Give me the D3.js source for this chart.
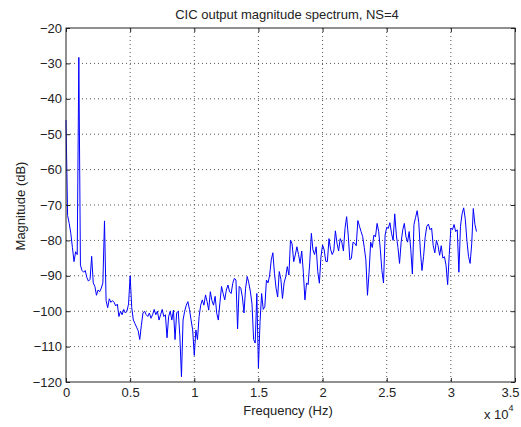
<!DOCTYPE html>
<html>
<head>
<meta charset="utf-8">
<script src="https://cdn.jsdelivr.net/npm/d3@7"></script>
<style>
body { margin: 0; background: #fff; }
</style>
</head>
<body>
<div id="chart"></div>
<script>
// spectrum bins are spaced evenly, 125 Hz apart, starting at 0 Hz
const freqStep = 125;
const magnitude = [
  -46, -73, -75.2, -78, -82, -86, -83.2, -84,
  -28.3, -87, -88.5, -89, -88.5, -90.5, -91.5, -91,
  -84.5, -92, -93, -95.5, -94, -94.5, -93.5, -92,
  -74.5, -97, -99, -96.5, -97.5, -97, -97.5, -98.5,
  -98, -101.5, -100, -101, -99.5, -100.5, -100, -98,
  -90, -99, -102.5, -103.5, -104.5, -105.5, -108, -104,
  -100.5, -100, -101, -101.5, -100.5, -102, -101, -99.5,
  -101, -100, -102.5, -101, -99.5, -101.5, -101, -107.5,
  -101.5, -100, -102.5, -99.7, -108, -100.5, -100, -107,
  -118.5, -102.5, -100, -98.3, -97.3, -99.5, -102.5, -105.3,
  -112.5, -105.3, -108, -101.5, -98.3, -96.8, -98.3, -95.4,
  -97.3, -99.7, -94.5, -97, -98.3, -95.8, -100.6, -102.5,
  -97.5, -93, -95, -96.8, -94, -92.6, -94.5, -95,
  -92.1, -90.7, -91.2, -105, -93, -93.5, -96, -100.5,
  -93.5, -90.2, -92, -94.5, -98, -108, -109, -95,
  -116, -103, -95, -99.5, -98.7, -91.2, -92, -89.8,
  -85.5, -83.5, -89.3, -93.5, -96, -88.8, -91, -96.4,
  -92, -90.3, -87.4, -89.8, -79.9, -81, -86, -84.1,
  -81.8, -84, -86.5, -83, -89, -96.8, -92, -92.5,
  -86.3, -78, -82.7, -84, -81.8, -88.8, -92.1, -84.6,
  -81.3, -82.7, -85.9, -86, -79.5, -82.5, -84, -83,
  -77.3, -80.8, -83, -79.5, -80.5, -83, -76.6, -73.3,
  -78.5, -85.5, -85, -80.5, -80.8, -81.5, -74.4, -76,
  -77.5, -78.9, -82, -85.5, -95.5, -89, -80.5, -82,
  -78.5, -79, -75.2, -77.5, -82.5, -88.5, -92, -78.5,
  -76.3, -76.6, -75, -78, -80, -72.5, -78.5, -82,
  -86.5, -80.5, -77, -75.2, -79, -80.5, -77.5, -82.5,
  -89.5, -75.5, -73.5, -71.6, -75, -83, -88.5, -84.5,
  -79, -76, -75.4, -77, -76.5, -81.5, -83.5, -80,
  -81.5, -84.2, -81.5, -85, -84.6, -87, -92.5, -84,
  -76.5, -77, -75.5, -77.5, -77, -89, -76, -72.5,
  -70.8, -74, -80, -84.5, -86.5, -81, -71, -75.5,
  -77.5
];
const xTicks = [0, 5000, 10000, 15000, 20000, 25000, 30000, 35000];
const xTickLabels = ["0", "0.5", "1", "1.5", "2", "2.5", "3", "3.5"];
const yTicks = [-120, -110, -100, -90, -80, -70, -60, -50, -40, -30, -20];

const width = 521, height = 427;
const plotLeft = 66, plotRight = 515, plotTop = 28, plotBottom = 382;
const font = "'Liberation Sans', Arial, Helvetica, sans-serif";

const svg = d3.select("#chart")
    .append("svg")
    .attr("width", width)
    .attr("height", height);

const x = d3.scaleLinear().domain([0, 35000]).range([plotLeft, plotRight]);
const y = d3.scaleLinear().domain([-120, -20]).range([plotBottom, plotTop]);

// dotted grid
svg.selectAll(".xgrid")
    .data(xTicks.slice(1, -1))
    .join("line")
    .attr("x1", d => x(d)).attr("x2", d => x(d))
    .attr("y1", plotTop).attr("y2", plotBottom)
    .attr("stroke", "#555")
    .attr("stroke-width", 1)
    .attr("stroke-dasharray", "1,3");

svg.selectAll(".ygrid")
    .data(yTicks.slice(1, -1))
    .join("line")
    .attr("x1", plotLeft).attr("x2", plotRight)
    .attr("y1", d => y(d)).attr("y2", d => y(d))
    .attr("stroke", "#555")
    .attr("stroke-width", 1)
    .attr("stroke-dasharray", "1,3");

// spectrum trace
const points = magnitude.map((m, i) => ({ f: i * freqStep, db: m }));
const line = d3.line().x(d => x(d.f)).y(d => y(d.db));

svg.append("path")
    .datum(points)
    .attr("d", line)
    .attr("fill", "none")
    .attr("stroke", "#0000ff")
    .attr("stroke-width", 1);

// axes, ticks pointing inwards like matlab
let styleAxis = function(g) {
    g.select(".domain").remove();
    g.selectAll(".tick line").attr("stroke", "#222");
    g.selectAll("text")
        .attr("fill", "#222")
        .attr("font-size", 13)
        .attr("font-family", font);
};

const xAxis = svg.append("g")
    .attr("transform", `translate(0,${plotBottom})`)
    .call(d3.axisBottom(x).tickValues(xTicks)
        .tickFormat((d, i) => xTickLabels[i])
        .tickSizeInner(-4).tickSizeOuter(0).tickPadding(6))
    .call(styleAxis);

// last label sits on the page edge, nudge it in so it is not clipped
xAxis.selectAll(".tick text")
    .filter(d => d === 35000)
    .attr("dx", -5);

svg.append("g")
    .attr("transform", `translate(0,${plotTop})`)
    .call(d3.axisTop(x).tickValues(xTicks).tickFormat("")
        .tickSizeInner(-4).tickSizeOuter(0))
    .call(styleAxis);

svg.append("g")
    .attr("transform", `translate(${plotLeft},0)`)
    .call(d3.axisLeft(y).tickValues(yTicks)
        .tickSizeInner(-4).tickSizeOuter(0).tickPadding(4))
    .call(styleAxis);

svg.append("g")
    .attr("transform", `translate(${plotRight},0)`)
    .call(d3.axisRight(y).tickValues(yTicks).tickFormat("")
        .tickSizeInner(-4).tickSizeOuter(0))
    .call(styleAxis);

svg.append("rect")
    .attr("x", plotLeft).attr("y", plotTop)
    .attr("width", plotRight - plotLeft).attr("height", plotBottom - plotTop)
    .attr("fill", "none")
    .attr("stroke", "#222")
    .attr("stroke-width", 1);

// labels
svg.append("text")
    .attr("x", 287).attr("y", 18.5)
    .attr("text-anchor", "middle")
    .attr("font-size", 13).attr("font-family", font).attr("fill", "#222")
    .text("CIC output magnitude spectrum, NS=4");

svg.append("text")
    .attr("x", 288).attr("y", 415)
    .attr("text-anchor", "middle")
    .attr("font-size", 13).attr("font-family", font).attr("fill", "#222")
    .text("Frequency (Hz)");

svg.append("text")
    .attr("transform", "translate(25,206) rotate(-90)")
    .attr("text-anchor", "middle")
    .attr("font-size", 13).attr("font-family", font).attr("fill", "#222")
    .text("Magnitude (dB)");

const expo = svg.append("text")
    .attr("x", 484).attr("y", 419)
    .attr("font-size", 13).attr("font-family", font).attr("fill", "#222");
expo.append("tspan").text("x 10");
expo.append("tspan").attr("dy", -8).attr("font-size", 9).text("4");
</script>
</body>
</html>
